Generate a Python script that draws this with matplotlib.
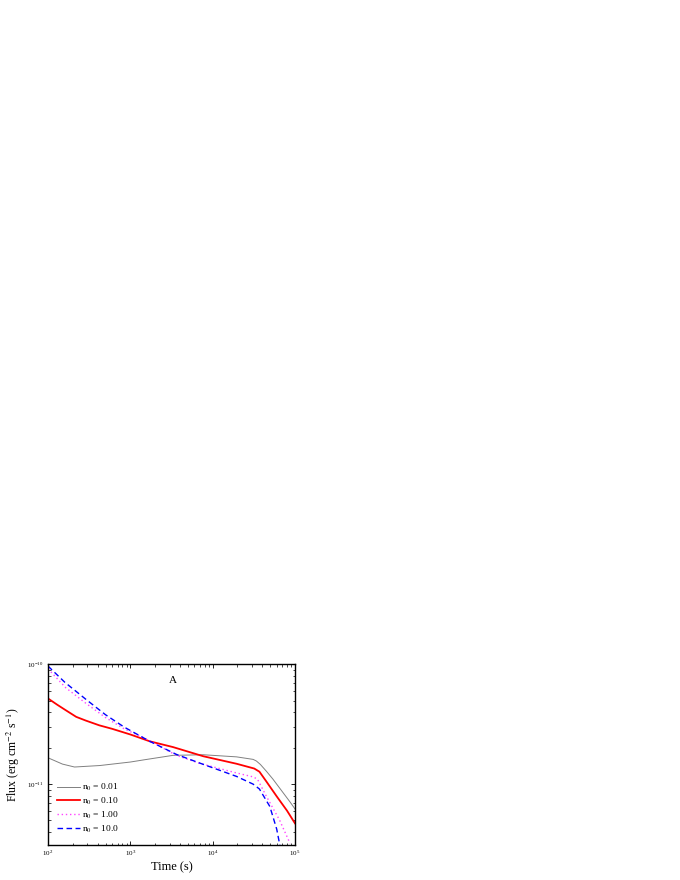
import numpy as np
import matplotlib
matplotlib.use("Agg")
import matplotlib.pyplot as plt
from matplotlib.ticker import NullFormatter

plt.rcParams['font.family'] = ['Liberation Serif', 'DejaVu Serif']
plt.rcParams['mathtext.fontset'] = 'stix'

# n0 = 0.01 (gray, solid)
t_001 = [100, 150, 210, 425, 1000, 1500, 3300, 7700, 19500, 31000, 34000, 38000, 45000,
         54000, 87000, 100000]
f_001 = [1.66e-11, 1.47e-11, 1.39e-11, 1.43e-11, 1.53e-11, 1.60e-11, 1.74e-11, 1.76e-11,
         1.69e-11, 1.61e-11, 1.56e-11, 1.46e-11, 1.28e-11, 1.10e-11, 7.1e-12, 6.2e-12]

# n0 = 0.10 (red, solid)
t_010 = [100, 130, 164, 220, 287, 420, 600, 1000, 1720, 3300, 7700, 19500, 32000, 37000,
         45000, 60000, 80000, 100000]
f_010 = [5.2e-11, 4.6e-11, 4.15e-11, 3.65e-11, 3.4e-11, 3.1e-11, 2.9e-11, 2.6e-11,
         2.28e-11, 2.04e-11, 1.71e-11, 1.48e-11, 1.35e-11, 1.27e-11, 1.05e-11, 7.9e-12,
         6.0e-12, 4.7e-12]

# n0 = 1.00 (magenta, dotted)
t_100 = [100, 164, 287, 500, 840, 1440, 3640, 6960, 19500, 31000, 35000, 45000, 65000, 87000]
f_100 = [9.2e-11, 6.4e-11, 4.75e-11, 3.6e-11, 2.9e-11, 2.45e-11, 1.74e-11, 1.49e-11,
         1.24e-11, 1.15e-11, 1.10e-11, 7.9e-12, 5.0e-12, 3.2e-12]

# n0 = 10.0 (blue, dashed)
t_1000 = [100, 160, 290, 500, 840, 1720, 3640, 6960, 19500, 31000, 37000, 49500, 60000, 66000]
f_1000 = [9.7e-11, 7.1e-11, 5.1e-11, 3.8e-11, 3.0e-11, 2.28e-11, 1.77e-11, 1.50e-11,
          1.16e-11, 1.0e-11, 9.1e-12, 6.5e-12, 4.2e-12, 3.0e-12]

labels = ['n$_0$ = 0.01', 'n$_0$ = 0.10', 'n$_0$ = 1.00', 'n$_0$ = 10.0']

fig = plt.figure(figsize=(6.8, 8.8), dpi=100)
ax = fig.add_axes([0.0706, 0.0398, 0.3632, 0.2051])

ax.plot(t_001, f_001, color='gray', lw=0.7, label=labels[0])
ax.plot(t_010, f_010, color='red', lw=1.3, label=labels[1])
ax.plot(t_100, f_100, color='#ff44ff', lw=1.0, linestyle=(0, (1, 2)), label=labels[2])
ax.plot(t_1000, f_1000, color='blue', lw=1.0, linestyle=(0, (4, 2.5)), label=labels[3])

ax.set_xscale('log')
ax.set_yscale('log')
ax.set_xlim(100, 1e5)
ax.set_ylim(3.1e-12, 1e-10)
ax.xaxis.set_minor_formatter(NullFormatter())
ax.yaxis.set_minor_formatter(NullFormatter())

ax.tick_params(which='both', direction='in', top=True, right=True, labelsize=5, pad=3)
ax.tick_params(which='major', length=3, width=0.6)
ax.tick_params(which='minor', length=1.8, width=0.5)
for s in ax.spines.values():
    s.set_linewidth(1.0)

ax.set_xlabel('Time (s)', fontsize=9, labelpad=2)
ax.set_ylabel('Flux (erg cm$^{-2}$ s$^{-1}$)', fontsize=8.5, labelpad=4)

ax.text(0.506, 0.914, 'A', transform=ax.transAxes, fontsize=8, ha='center', va='center')

ax.legend(loc='lower left', bbox_to_anchor=(0.0, 0.01), frameon=False, fontsize=6.8,
          handlelength=2.5, handletextpad=0.2, labelspacing=0.28)

fig.savefig('out.png', dpi=100)
